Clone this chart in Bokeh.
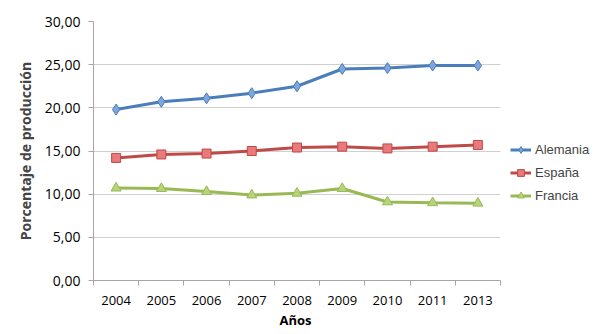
from bokeh.plotting import figure
from bokeh.models import FixedTicker, Range1d, Legend, LegendItem, Title
from bokeh.embed import file_html
from bokeh.resources import INLINE

years = ["2004", "2005", "2006", "2007", "2008", "2009", "2010", "2011", "2013"]
alemania = [19.8, 20.7, 21.1, 21.7, 22.5, 24.5, 24.6, 24.9, 24.9]
espana = [14.2, 14.6, 14.7, 15.0, 15.4, 15.5, 15.3, 15.5, 15.7]
francia = [10.7, 10.65, 10.3, 9.9, 10.1, 10.65, 9.1, 9.0, 8.95]
y_ticks = [0, 5, 10, 15, 20, 25, 30]

n = len(years)
xs = list(range(1, n + 1))

# frame spans from x=93 to the right edge; the data area uses 407 px of it
W, H, LEFT, TOP, BOTTOM = 610, 334, 93, 21, 54
data_px = 407
x_end = 0.5 + (W - LEFT) * n / data_px

p = figure(width=W, height=H, output_backend="svg", toolbar_location=None,
           x_range=Range1d(0.5, x_end), y_range=Range1d(0, 30),
           min_border_left=LEFT, min_border_right=0, min_border_top=TOP, min_border_bottom=BOTTOM)
p.outline_line_color = None
p.background_fill_color = "white"

font = "Open Sans"

p.xaxis.bounds = (0.5, n + 0.5)
p.xaxis.ticker = FixedTicker(ticks=xs, minor_ticks=[x - 0.5 for x in xs] + [n + 0.5])
p.xaxis.major_label_overrides = {x: y for x, y in zip(xs, years)}
p.xaxis.major_tick_line_color = None
p.xaxis.minor_tick_line_color = "#a6a6a6"
p.xaxis.minor_tick_in = 0
p.xaxis.minor_tick_out = 5
p.xaxis.axis_line_color = "#a6a6a6"
p.xaxis.major_label_text_font = font
p.xaxis.major_label_text_font_size = "13px"
p.xaxis.major_label_text_color = "#000000"
p.xaxis.major_label_standoff = 9

p.add_layout(Title(text="Años", align="left", offset=186, text_font=font,
                   text_font_style="bold", text_font_size="13px", text_color="#000000",
                   standoff=2), "below")

p.yaxis.ticker = FixedTicker(ticks=y_ticks)
p.yaxis.major_label_overrides = {t: f"{t:.2f}".replace(".", ",") for t in y_ticks}
p.yaxis.axis_line_color = "#a6a6a6"
p.yaxis.major_tick_line_color = "#a6a6a6"
p.yaxis.major_tick_in = 0
p.yaxis.major_tick_out = 5
p.yaxis.minor_tick_line_color = None
p.yaxis.major_label_text_font = font
p.yaxis.major_label_text_font_size = "14px"
p.yaxis.major_label_text_color = "#000000"
p.yaxis.major_label_standoff = 8
p.yaxis.axis_label = "Porcentaje de producción"
p.yaxis.axis_label_text_font = font
p.yaxis.axis_label_text_font_style = "bold"
p.yaxis.axis_label_text_font_size = "14px"
p.yaxis.axis_label_standoff = 7

p.xgrid.grid_line_color = None
p.ygrid.ticker = FixedTicker(ticks=y_ticks)
p.ygrid.grid_line_color = "#d0d0d0"
p.ygrid.cross_bounds = (0.5, n + 0.5)

l1 = p.line(xs, alemania, line_color="#4a7ebb", line_width=3)
m1 = p.scatter(xs, alemania, marker="diamond", size=11, fill_color="#7ea6dc", line_color="#4a7ebb", line_width=1)
l2 = p.line(xs, espana, line_color="#be4b48", line_width=3)
m2 = p.scatter(xs, espana, marker="square", size=9, fill_color="#e9797a", line_color="#be4b48", line_width=1)
l3 = p.line(xs, francia, line_color="#98b954", line_width=3)
m3 = p.scatter(xs, francia, marker="triangle", size=10, fill_color="#b8d47a", line_color="#98b954", line_width=1)

legend = Legend(items=[LegendItem(label="Alemania", renderers=[l1, m1]),
                       LegendItem(label="España", renderers=[l2, m2]),
                       LegendItem(label="Francia", renderers=[l3, m3])],
                location=(417, 76), border_line_color=None, background_fill_alpha=0,
                label_text_font="Liberation Sans", label_text_font_size="13px",
                glyph_width=21, glyph_height=17, label_standoff=4, label_height=17,
                spacing=6, padding=4, margin=0)
p.add_layout(legend)

open("out.html", "w").write(file_html(p, INLINE))
